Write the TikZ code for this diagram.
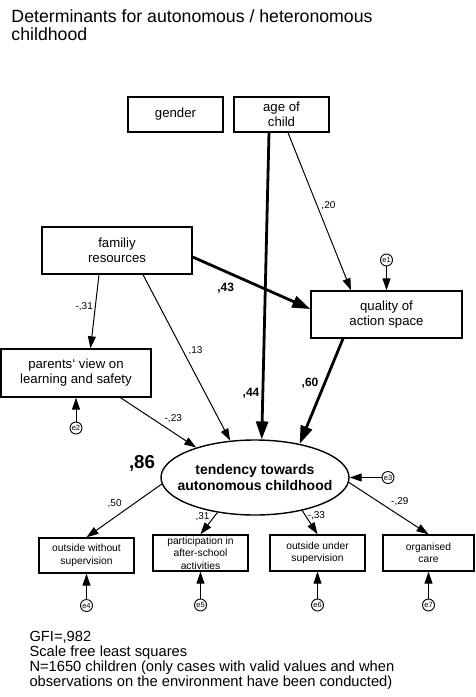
\documentclass[tikz,border=0pt]{standalone}
\usepackage{fontspec}
\setmainfont{Liberation Sans}
\usetikzlibrary{arrows.meta,shapes.geometric}

\begin{document}
\begin{tikzpicture}[x=1pt,y=-1pt,->,>={Triangle[length=12pt,width=8pt]},
	line width=1pt,node distance=50pt]
	\tikzstyle{box}=[draw,line width=1.4pt,rectangle,align=center,inner sep=0pt,
		font=\fontsize{13.2}{15}\selectfont]
	\tikzstyle{small box}=[box,minimum width=95pt,minimum height=35pt,
		font=\fontsize{10.3}{12.5}\selectfont]
	\tikzstyle{err}=[draw,circle,line width=.9pt,minimum size=12pt,inner sep=0pt,
		font=\fontsize{7.5}{8}\selectfont]
	\tikzstyle{coef}=[font=\fontsize{10}{10}\selectfont,inner sep=2pt]
	\tikzstyle{big coef}=[font=\bfseries\fontsize{12}{12}\selectfont,inner sep=2pt]
	\tikzstyle{heavy}=[line width=2.8pt,>={Triangle[length=18pt,width=12pt]}]
	\useasboundingbox (0,0) rectangle (475,697);

	\node[anchor=north west,align=left,inner sep=0pt,
		font=\fontsize{17.7}{18.5}\selectfont] (title) at (11,9)
		{Determinants for autonomous / heteronomous\\childhood};

	\node[box,minimum width=95pt,minimum height=35pt] (gender) at (175.5,114.5) {gender};
	\node[box,minimum width=95pt,minimum height=35pt,node distance=106pt]
		(age) [right of=gender] {age of\\child};
	\node[box,minimum width=150pt,minimum height=47pt] (fam) at (117,250.5) {familiy\\resources};
	\node[box,minimum width=151pt,minimum height=47pt] (qual) at (386.5,314.5) {quality of\\action space};
	\node[box,minimum width=150pt,minimum height=48pt] (parents) at (76,373) {parents\char"60\ view on\\learning and safety};
	\node[draw,ellipse,line width=1.4pt,minimum width=188pt,minimum height=75pt,
		inner xsep=-12pt,inner ysep=0pt,align=center,
		font=\bfseries\fontsize{14}{16}\selectfont] (tend) at (255,477.5)
		{tendency towards\\autonomous childhood};
	\node[font=\bfseries\fontsize{18.7}{19}\selectfont] (r86) at (142,463) {,86};

	\node[small box] (bwo) at (86.5,555.5) {outside without\\supervision};
	\node[small box,minimum height=36pt] (part) at (200.5,553) {participation in\\after-school\\activities};
	\node[small box,minimum height=36pt] (bun) at (317.5,553) {outside under\\supervision};
	\node[small box,minimum height=36pt,minimum width=91pt] (org) at (428.5,553) {organised\\care};

	\node[err] (e1) at (386.5,260) {e1};
	\node[err,node distance=55pt] (e2) [below of=parents] {e2};
	\node[err,node distance=133pt] (e3) [right of=tend] {e3};
	\node[err] (e4) [below of=bwo] {e4};
	\node[err,node distance=52pt] (e5) [below of=part] {e5};
	\node[err,node distance=52pt] (e6) [below of=bun] {e6};
	\node[err,node distance=52pt] (e7) [below of=org] {e7};

	\draw[heavy] ([xshift=-12.5pt]age.south) -- node[big coef,pos=.85,left] {,44} (tend.80);
	\draw ([xshift=6.5pt]age.south) -- node[coef,pos=.46,right=2pt] {,20} ([xshift=-35.5pt]qual.north);
	\draw[heavy] ([yshift=-6.5pt]fam.east) -- node[big coef,pos=.28,below=8pt] {,43} ([yshift=5.5pt]qual.west);
	\draw ([xshift=-18pt]fam.south) -- node[coef,pos=.43,left] {-,31} ([xshift=14.5pt]parents.north);
	\draw ([xshift=26pt]fam.south) -- node[coef,pos=.46,right=3pt] {,13} (tend.124);
	\draw[heavy] ([xshift=-43.5pt]qual.south) -- node[big coef,pos=.42,left=3pt] {,60} (tend.37);
	\draw ([xshift=44.5pt]parents.south) -- node[coef,pos=.55,above right] {-,23} (tend.153);

	\draw (tend.184) -- node[coef,pos=.5,above left] {,50} (bwo.north);
	\draw (tend.223) -- node[coef,pos=.2,left=2pt] {,31} (part.north);
	\draw (tend.325) -- node[coef,pos=.2,right] {-,33} (bun.north);
	\draw (tend.357) -- node[coef,pos=.5,above right] {-,29} (org.north);

	\draw (e1) -- (qual.north);
	\draw (e2) -- (parents.south);
	\draw (e3) -- (tend.east);
	\draw (e4) -- (bwo.south);
	\draw (e5) -- (part.south);
	\draw (e6) -- (bun.south);
	\draw (e7) -- (org.south);

	\node[anchor=north west,align=left,inner sep=0pt,
		font=\fontsize{14.7}{15}\selectfont] (notes) at (29,631)
		{GFI=,982\\Scale free least squares\\N=1650 children (only cases with valid values and when\\observations on the environment have been conducted)};
\end{tikzpicture}
\end{document}
